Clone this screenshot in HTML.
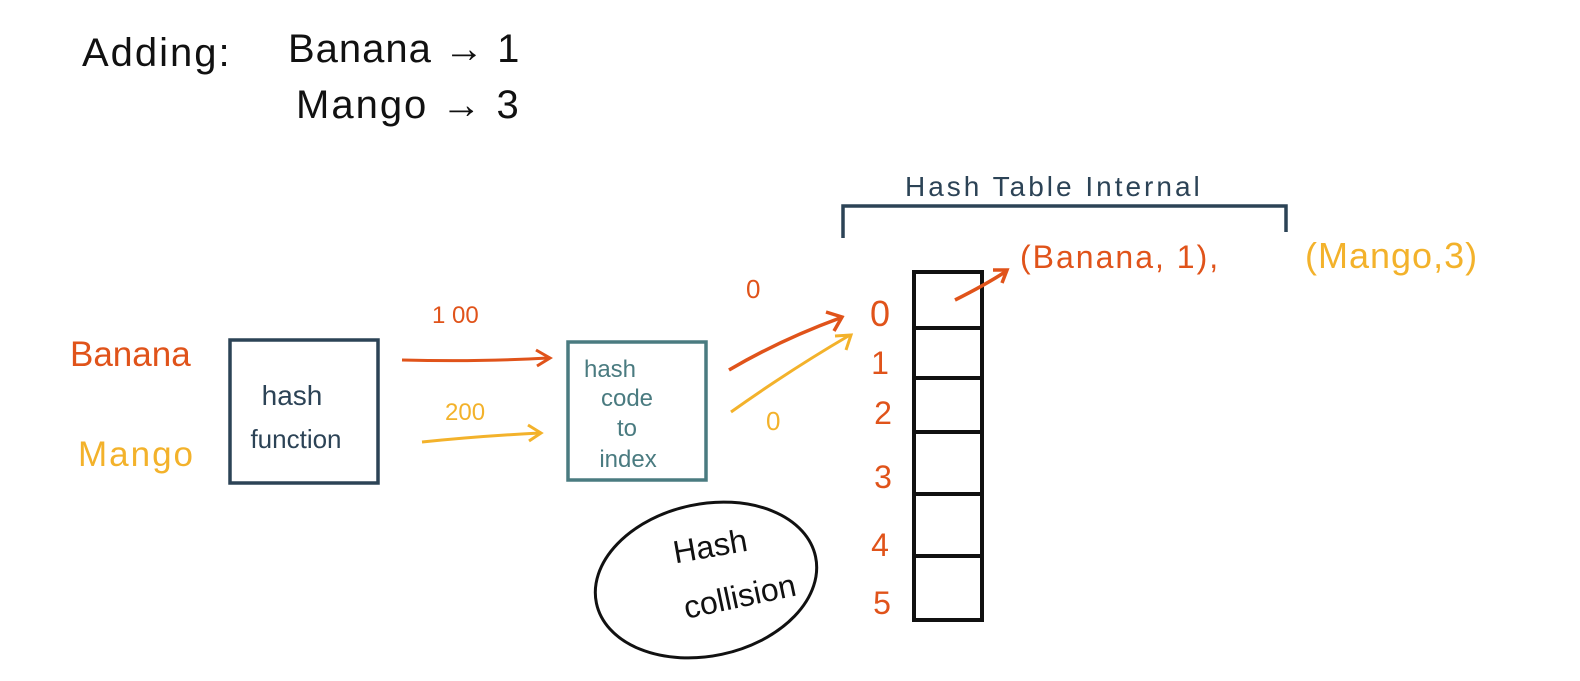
<!DOCTYPE html>
<html><head><meta charset="utf-8"><style>
html,body{margin:0;padding:0;background:#fff;width:1580px;height:681px;overflow:hidden}
svg text{font-family:"Liberation Sans",sans-serif}
</style></head><body>
<svg width="1580" height="681" viewBox="0 0 1580 681" xmlns="http://www.w3.org/2000/svg">
<g fill="#111" font-size="40">
<text x="82" y="66" letter-spacing="2">Adding:</text>
<text x="288" y="62" letter-spacing="1">Banana → 1</text>
<text x="296" y="118" letter-spacing="2">Mango → 3</text>
</g>
<text x="905" y="196" font-size="28" fill="#2c4356" letter-spacing="3">Hash  Table   Internal</text>
<path d="M843 238 V206 H1286 V232" fill="none" stroke="#2c4356" stroke-width="3.5"/>
<text x="70" y="366" font-size="35" fill="#e0531a">Banana</text>
<text x="78" y="466" font-size="35" fill="#f3b22b" letter-spacing="2">Mango</text>
<rect x="230" y="340" width="148" height="143" fill="none" stroke="#2c4356" stroke-width="3.5"/>
<text x="292" y="405" font-size="28" fill="#2c4356" text-anchor="middle">hash</text>
<text x="296" y="448" font-size="26" fill="#2c4356" text-anchor="middle">function</text>
<text x="432" y="323" font-size="24" fill="#e0531a">1 00</text>
<path d="M402 360 Q480 362 548 358" stroke="#e0531a" stroke-width="3" fill="none"/>
<path d="M536 350 L550 358 L537 366" stroke="#e0531a" stroke-width="3" fill="none"/>
<text x="445" y="420" font-size="24" fill="#f3b22b">200</text>
<path d="M422 442 Q480 436 540 433" stroke="#f3b22b" stroke-width="3" fill="none"/>
<path d="M528 425 L541 433 L529 441" stroke="#f3b22b" stroke-width="3" fill="none"/>
<rect x="568" y="342" width="138" height="138" fill="none" stroke="#4a7b80" stroke-width="3.5"/>
<g fill="#4a7b80" font-size="24" text-anchor="middle">
<text x="610" y="377">hash</text><text x="627" y="406">code</text><text x="627" y="436">to</text><text x="628" y="467">index</text>
</g>
<text x="746" y="298" font-size="26" fill="#e0531a">0</text>
<text x="766" y="430" font-size="26" fill="#f3b22b">0</text>
<path d="M729 370 Q780 340 840 318" stroke="#e0531a" stroke-width="3.5" fill="none"/>
<path d="M826 312 L842 317 L834 331" stroke="#e0531a" stroke-width="3.5" fill="none"/>
<path d="M731 412 Q790 370 850 335" stroke="#f3b22b" stroke-width="3" fill="none"/>
<path d="M835 336 L851 335 L846 350" stroke="#f3b22b" stroke-width="3" fill="none"/>
<g fill="#e0531a" font-size="32" text-anchor="middle">
<text x="880" y="326" font-size="36">0</text><text x="880" y="374">1</text><text x="883" y="424">2</text><text x="883" y="488">3</text><text x="880" y="556">4</text><text x="882" y="614">5</text>
</g>
<g stroke="#111" stroke-width="4" fill="none">
<rect x="914" y="272" width="68" height="348"/>
<path d="M914 328H982M914 378H982M914 432H982M914 494H982M914 556H982"/>
</g>
<path d="M955 300 Q985 285 1005 272" stroke="#e0531a" stroke-width="3.5" fill="none"/>
<path d="M993 270 L1007 270 L1002 283" stroke="#e0531a" stroke-width="3.5" fill="none"/>
<text x="1020" y="268" font-size="32" fill="#e0531a" letter-spacing="2">(Banana, 1),</text>
<text x="1305" y="268" font-size="36" fill="#f3b22b" letter-spacing="1">(Mango,3)</text>
<ellipse cx="706" cy="580" rx="112" ry="76" transform="rotate(-12 706 580)" fill="none" stroke="#111" stroke-width="3"/>
<g fill="#111" font-size="32" text-anchor="middle">
<text x="712" y="557" transform="rotate(-10 712 557)">Hash</text>
<text x="742" y="607" transform="rotate(-12 742 607)">collision</text>
</g>
</svg>
</body></html>
